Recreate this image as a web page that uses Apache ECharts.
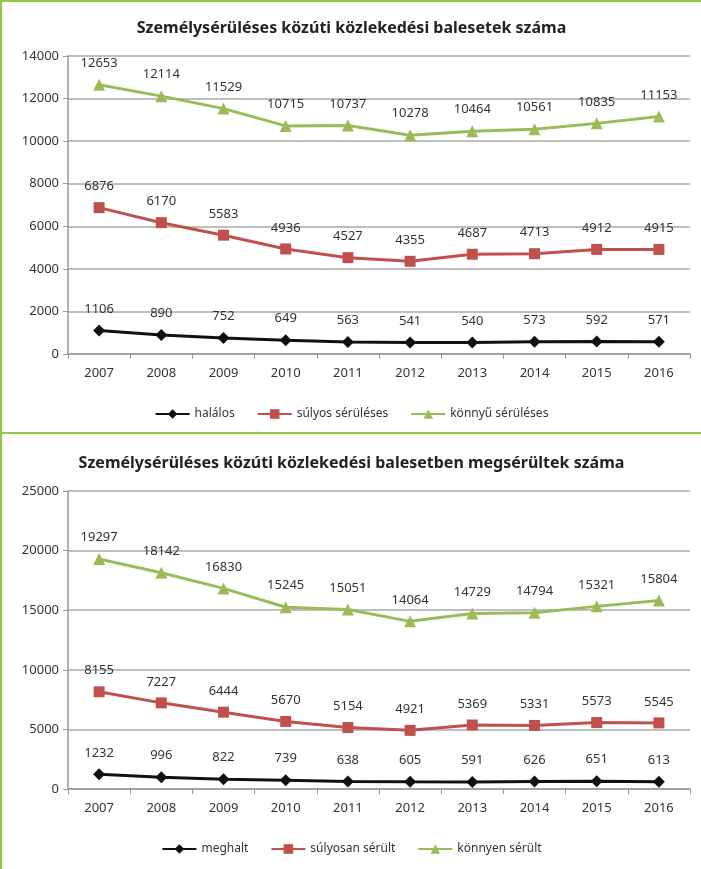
<!DOCTYPE html>
<html>
<head>
<meta charset="utf-8">
<script src="https://cdn.jsdelivr.net/npm/echarts@6/dist/echarts.min.js"></script>
<style>
  body { margin: 0; background: #fff; }
  #balesetek { position: absolute; left: 0; top: 0; width: 699px; height: 430px;
    border-top: 2px solid #94c73d; border-left: 2px solid #94c73d; }
  #serultek { position: absolute; left: 0; top: 432px; width: 699px; height: 435px;
    border-top: 2px solid #94c73d; border-left: 2px solid #94c73d; }
</style>
</head>
<body>
<div id="balesetek"></div>
<div id="serultek"></div>
<script>
  // évek
  var years = ['2007', '2008', '2009', '2010', '2011', '2012', '2013', '2014', '2015', '2016'];

  // balesetek száma
  var halalos = [1106, 890, 752, 649, 563, 541, 540, 573, 592, 571];
  var sulyos = [6876, 6170, 5583, 4936, 4527, 4355, 4687, 4713, 4912, 4915];
  var konnyu = [12653, 12114, 11529, 10715, 10737, 10278, 10464, 10561, 10835, 11153];

  // megsérültek száma
  var meghalt = [1232, 996, 822, 739, 638, 605, 591, 626, 651, 613];
  var sulyosan = [8155, 7227, 6444, 5670, 5154, 4921, 5369, 5331, 5573, 5545];
  var konnyen = [19297, 18142, 16830, 15245, 15051, 14064, 14729, 14794, 15321, 15804];

  var font = 'Noto Sans';

  function makeSeries(name, data, color, symbol, size) {
    return {
      name: name,
      type: 'line',
      data: data,
      symbol: symbol,
      symbolSize: size,
      lineStyle: { color: color, width: 3 },
      itemStyle: { color: color },
      label: {
        show: true,
        position: 'top',
        distance: 9,
        color: '#333',
        fontFamily: font,
        fontSize: 13
      }
    };
  }

  function makeOption(title, max, interval, grid, titleTop, legendTop, series) {
    return {
      animation: false,
      title: {
        text: title,
        left: 'center',
        top: titleTop,
        textStyle: { fontFamily: font, fontSize: 16, fontWeight: 'bold', color: '#222' }
      },
      legend: {
        top: legendTop,
        left: 'center',
        itemWidth: 34,
        itemHeight: 12,
        itemGap: 22,
        textStyle: { fontFamily: font, fontSize: 12, color: '#333' },
        data: series.map(function (s) { return s.name; })
      },
      grid: grid,
      xAxis: {
        type: 'category',
        data: years,
        boundaryGap: true,
        axisLine: { lineStyle: { color: '#999', width: 1.5 } },
        axisTick: { show: true, length: 5, lineStyle: { color: '#999' } },
        axisLabel: { color: '#333', fontFamily: font, fontSize: 13, margin: 13 }
      },
      yAxis: {
        type: 'value',
        min: 0,
        max: max,
        interval: interval,
        axisLine: { show: true, lineStyle: { color: '#999', width: 1.5 } },
        axisTick: { show: true, length: 5, lineStyle: { color: '#999' } },
        axisLabel: {
          color: '#333', fontFamily: font, fontSize: 13, margin: 9,
          formatter: function (v) { return String(v); }
        },
        splitLine: { lineStyle: { color: '#a8a8a8', width: 1.5 } }
      },
      series: series
    };
  }

  var chart1 = echarts.init(document.getElementById('balesetek'));
  chart1.setOption(makeOption(
    'Személysérüléses közúti közlekedési balesetek száma',
    14000, 2000,
    { left: 66, right: 11, top: 54, bottom: 78 },
    13, 401,
    [
      makeSeries('halálos', halalos, '#111', 'diamond', 12),
      makeSeries('súlyos sérüléses', sulyos, '#c0504d', 'rect', 11),
      makeSeries('könnyű sérüléses', konnyu, '#9bbb59', 'triangle', 12)
    ]
  ));

  var chart2 = echarts.init(document.getElementById('serultek'));
  chart2.setOption(makeOption(
    'Személysérüléses közúti közlekedési balesetben megsérültek száma',
    25000, 5000,
    { left: 66, right: 11, top: 57, bottom: 80 },
    16, 404,
    [
      makeSeries('meghalt', meghalt, '#111', 'diamond', 12),
      makeSeries('súlyosan sérült', sulyosan, '#c0504d', 'rect', 11),
      makeSeries('könnyen sérült', konnyen, '#9bbb59', 'triangle', 12)
    ]
  ));
</script>
</body>
</html>
